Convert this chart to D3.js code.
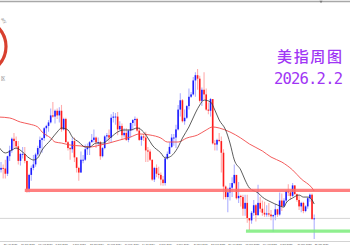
<!DOCTYPE html>
<html><head><meta charset="utf-8">
<script src="https://cdn.jsdelivr.net/npm/d3@7"></script>
<style>html,body{margin:0;padding:0;background:#fff;overflow:hidden}</style>
</head><body>
<svg id="c" width="350" height="250"></svg>
<script>
// Weekly US Dollar Index candles, week of 2 Apr 2023 (index 0) to week of 25 Jan 2026 (index 147)
const open = [102.5,102.1,101.55,101.7,101.65,101.2,102.7,103.2,104.2,104.0,103.55,102.3,102.9,102.9,102.3,99.9,101.1,101.7,102.0,102.85,103.4,104.1,104.25,105.1,105.3,105.6,106.2,106.1,106.6,106.2,106.6,105.0,105.9,103.9,103.4,103.3,104.0,102.6,101.7,101.3,102.4,102.4,103.3,103.45,103.9,104.1,104.3,103.9,103.9,102.7,103.4,104.4,104.5,104.3,106.0,106.1,106.1,105.0,105.3,104.5,104.7,104.1,104.9,105.55,105.8,105.9,104.9,104.1,104.4,104.3,103.2,103.1,102.4,100.7,101.7,101.2,101.1,100.7,100.4,102.5,102.9,103.5,104.3,104.3,105.0,106.7,107.5,105.7,106.0,107.0,107.8,108.0,109.2,109.65,109.35,107.45,108.4,108.0,106.7,106.6,107.6,103.8,103.7,104.1,104.0,103.0,100.1,99.2,99.6,100.0,100.4,101.1,99.1,99.3,99.2,98.2,98.7,97.4,97.2,97.85,98.5,97.65,98.7,98.2,97.85,97.7,97.8,97.7,97.55,97.65,98.15,97.7,98.9,98.4,98.9,99.7,99.6,99.3,100.2,99.45,98.95,98.4,98.7,98.0,98.4,99.1,99.4,97.3];
const high = [102.8,102.8,102.2,102.0,102.4,102.75,103.6,104.3,104.7,104.4,104.0,103.0,103.5,103.5,102.3,101.2,101.9,102.8,103.0,103.6,104.4,104.3,105.2,105.4,105.8,106.8,107.35,106.7,106.8,106.9,107.1,106.0,106.0,104.0,103.5,104.3,104.3,102.6,101.8,103.1,102.8,103.7,103.8,104.0,104.6,105.0,104.4,104.3,104.0,103.5,104.5,104.7,105.0,106.3,106.5,106.4,106.5,105.7,105.5,105.1,105.1,105.0,105.6,105.9,106.1,106.0,105.2,104.5,104.6,104.8,103.5,103.3,102.4,101.8,102.0,101.8,101.3,101.0,102.7,103.1,103.9,104.6,104.6,105.4,107.1,108.1,107.6,106.7,107.1,108.5,108.2,109.5,109.9,110.18,109.6,108.6,109.9,108.5,107.3,107.7,107.6,104.1,104.2,104.7,104.4,103.3,100.2,100.0,100.4,100.9,102.0,101.1,100.5,99.4,99.4,99.4,99.4,97.4,98.0,98.95,98.6,100.25,99.2,98.9,98.8,98.5,98.7,98.1,97.7,98.6,98.2,99.6,99.5,99.1,99.8,100.3,99.8,100.4,100.2,99.5,99.3,98.8,98.8,98.5,99.2,99.5,99.5,97.7];
const low = [101.4,100.8,101.3,100.8,100.8,101.0,102.3,103.0,103.4,103.3,102.0,101.9,102.5,102.1,99.57,99.6,100.6,101.5,101.8,102.7,103.0,103.0,104.0,104.4,104.8,105.5,106.0,105.5,105.9,105.6,104.8,104.9,103.9,103.2,102.4,103.0,102.2,101.3,100.6,101.3,102.1,102.3,102.8,102.8,103.9,103.9,103.4,103.6,102.4,102.6,103.3,104.0,103.9,103.9,105.6,105.4,104.5,104.9,104.1,104.3,104.0,103.9,104.3,104.9,105.3,104.8,104.0,103.6,104.0,102.2,102.2,102.3,100.6,100.5,100.9,100.8,100.2,100.16,100.2,102.4,102.9,103.4,103.6,103.4,104.9,106.1,105.6,105.4,105.9,106.7,107.7,107.9,107.8,108.4,107.3,107.0,107.6,106.6,106.3,106.1,103.7,103.2,103.2,103.9,101.3,99.0,99.0,97.9,98.9,99.2,100.3,99.0,98.7,98.4,97.6,97.6,97.0,96.37,96.9,97.6,97.1,97.6,97.9,97.6,97.5,97.5,97.5,97.2,96.22,97.2,97.5,97.6,98.0,98.3,98.7,99.3,99.0,99.2,99.4,98.8,98.1,97.9,97.8,97.9,98.2,98.8,97.3,95.6];
const close = [102.1,101.55,101.7,101.65,101.2,102.7,103.2,104.2,104.0,103.55,102.3,102.9,102.9,102.3,99.9,101.1,101.7,102.0,102.85,103.4,104.1,104.25,105.1,105.3,105.6,106.2,106.1,106.6,106.2,106.6,105.0,105.9,103.9,103.4,103.3,104.0,102.6,101.7,101.3,102.4,102.4,103.3,103.45,103.9,104.1,104.3,103.9,103.9,102.7,103.4,104.4,104.5,104.3,106.0,106.1,106.1,105.0,105.3,104.5,104.7,104.1,104.9,105.55,105.8,105.9,104.9,104.1,104.4,104.3,103.2,103.1,102.4,100.7,101.7,101.2,101.1,100.7,100.4,102.5,102.9,103.5,104.3,104.3,105.0,106.7,107.5,105.7,106.0,107.0,107.8,108.0,109.2,109.65,109.35,107.45,108.4,108.0,106.7,106.6,107.6,103.8,103.7,104.1,104.0,103.0,100.1,99.2,99.6,100.0,100.4,101.1,99.1,99.3,99.2,98.2,98.7,97.4,97.2,97.85,98.5,97.65,98.7,98.2,97.85,97.7,97.8,97.7,97.55,97.65,98.15,97.7,98.9,98.4,98.9,99.7,99.6,99.3,100.2,99.45,98.95,98.4,98.7,98.0,98.4,99.1,99.4,97.3,97.37];

// time-axis labels (bar index -> label)
const tickIdx = [3,11,19,27,35,43,51,59,67,75,83,91,99,107,115,123,131,139,147];
const tickLabels = ["23 Apr 2023","18 Jun 2023","13 Aug 2023","8 Oct 2023","3 Dec 2023","28 Jan 2024","24 Mar 2024","19 May 2024","14 Jul 2024","8 Sep 2024","3 Nov 2024","29 Dec 2024","23 Feb 2025","20 Apr 2025","15 Jun 2025","10 Aug 2025","5 Oct 2025","30 Nov 2025","25 Jan 2026"];

// moving averages (bar index, value)
const maFastIdx = [1,4,7,9,12,15,17,19,21,25,28,30,33,35,38,41,43,46,49,53,56,59,62,65,68,70,72,76,78,80,84,86,89,92,94,96,99,101,103,106,108,110,113,115,117,121,123,127,130,133,134,137,140,142,144,146,147];
const maFastVal = [103.49,102.98,103.23,103.40,103.06,102.55,102.38,102.55,103.23,104.09,104.78,105.12,104.95,104.35,103.92,103.49,103.49,103.83,103.83,104.35,104.78,104.95,104.95,105.12,104.78,104.26,103.66,102.98,102.55,102.63,103.49,104.26,105.21,106.41,107.09,107.52,107.35,106.66,105.81,104.95,103.83,102.38,101.52,100.66,99.98,99.55,99.20,98.77,98.52,98.34,98.69,99.12,99.37,99.20,99.20,98.95,98.6];
const maSlowIdx = [1,6,11,15,19,21,25,27,30,34,39,43,48,52,57,62,66,71,76,79,84,88,93,97,100,103,108,113,117,123,127,132,137,141,146,147];
const maSlowVal = [106.06,105.98,105.63,105.46,105.21,104.78,104.26,103.92,103.83,103.66,103.58,103.49,103.66,103.83,104.09,104.35,104.61,104.52,104.26,103.92,103.92,104.26,104.52,104.95,105.21,105.12,104.78,104.26,103.75,103.15,102.63,102.2,101.52,100.75,99.98,99.72];

// horizontal levels
const levelPrice = [99.78, 96.27];
const levelStart = [13, 115.4];
const levelColor = ["#ff6a6a", "#7ced7c"];
const lastPrice = 97.37;

const titleText = "美指周图";
const dateText = "2026.2.2";

const W = 350, H = 250;
const svg = d3.select("#c");
const x = d3.scaleLinear().domain([0, 147]).range([-3.3, 314.2]);
const y = d3.scaleLinear().domain([96.22, 110.18]).range([231.8, 69]);

// top border
svg.append("line").attr("x1",0).attr("x2",W).attr("y1",1.5).attr("y2",1.5)
  .attr("stroke","#a8a8a8").attr("stroke-width",1.6);
svg.append("path").attr("d","M319.5,0.8 L322.5,0.8 L321,3.2 Z").attr("fill","#777");

// current price line
svg.append("line").attr("x1",0).attr("x2",W).attr("y1",y(lastPrice)).attr("y2",y(lastPrice))
  .attr("stroke","#cfcfcf").attr("stroke-width",0.9);

// logo fragment
svg.append("circle").attr("cx",-21).attr("cy",46.5).attr("r",27)
  .attr("fill","none").attr("stroke","#d8402f").attr("stroke-width",3.2);
svg.append("text").attr("transform","translate(0.8,19) rotate(48)")
  .attr("font-family","Liberation Sans").attr("font-size",4.6).attr("fill","#8a8a8a").text("ary");
svg.append("text").attr("x",1).attr("y",80)
  .attr("font-family","Noto Sans CJK SC").attr("font-size",4.4).attr("fill","#7a7a7a").text("区");

// candles
const idx = d3.range(open.length);
const g = svg.append("g");
g.selectAll("line.w").data(idx).join("line").attr("class","w")
  .attr("x1",i=>x(i)).attr("x2",i=>x(i))
  .attr("y1",i=>y(high[i])).attr("y2",i=>y(low[i]))
  .attr("stroke",i=>close[i]>=open[i]?"#aeb0ff":"#ffadad").attr("stroke-width",1.1);
g.selectAll("rect.b").data(idx).join("rect").attr("class","b")
  .attr("x",i=>x(i)-0.8).attr("width",1.6)
  .attr("y",i=>y(Math.max(open[i],close[i])))
  .attr("height",i=>Math.max(0.9, Math.abs(y(open[i])-y(close[i]))))
  .attr("fill",i=>close[i]>=open[i]?"#1c1cff":"#ff1c1c");

// moving averages
const line = d3.line().x(d=>x(d[0])).y(d=>y(d[1])).curve(d3.curveMonotoneX);
svg.append("path").datum(maSlowIdx.map((d,i)=>[d,maSlowVal[i]]))
  .attr("d",line).attr("fill","none").attr("stroke","#f24a4a").attr("stroke-width",0.9);
svg.append("path").datum(maFastIdx.map((d,i)=>[d,maFastVal[i]]))
  .attr("d",line).attr("fill","none").attr("stroke","#333").attr("stroke-width",0.8);

// support / resistance levels
levelPrice.forEach((p,k)=>{
  svg.append("line").attr("x1",x(levelStart[k])).attr("x2",W)
    .attr("y1",y(p)).attr("y2",y(p))
    .attr("stroke",levelColor[k]).attr("stroke-width",3.2).attr("opacity",0.85);
});

// bottom separator + time axis
svg.append("line").attr("x1",0).attr("x2",W).attr("y1",241.5).attr("y2",241.5)
  .attr("stroke","#c8c8c8").attr("stroke-width",0.8);
const ax = svg.append("g").attr("transform","translate(0,243.2)")
  .call(d3.axisBottom(x).tickValues(tickIdx).tickFormat((d,i)=>tickLabels[i]).tickSize(0).tickPadding(0));
ax.select(".domain").remove();
ax.selectAll("text").attr("text-anchor","start").attr("font-family","Liberation Sans")
  .attr("font-size",2.5).attr("fill","#555").attr("dy","0.9em");

// titles
svg.append("text").attr("x",277).attr("y",62).attr("font-family","Noto Sans CJK SC")
  .attr("font-size",15).attr("font-weight",500).attr("fill","#a035f5")
  .attr("textLength",65).attr("lengthAdjust","spacing").text(titleText);
svg.append("text").attr("x",274).attr("y",84).attr("font-family","DejaVu Sans Mono")
  .attr("font-size",15.5).attr("fill","#a035f5")
  .attr("textLength",69).attr("lengthAdjust","spacing").text(dateText);
</script>
</body></html>
